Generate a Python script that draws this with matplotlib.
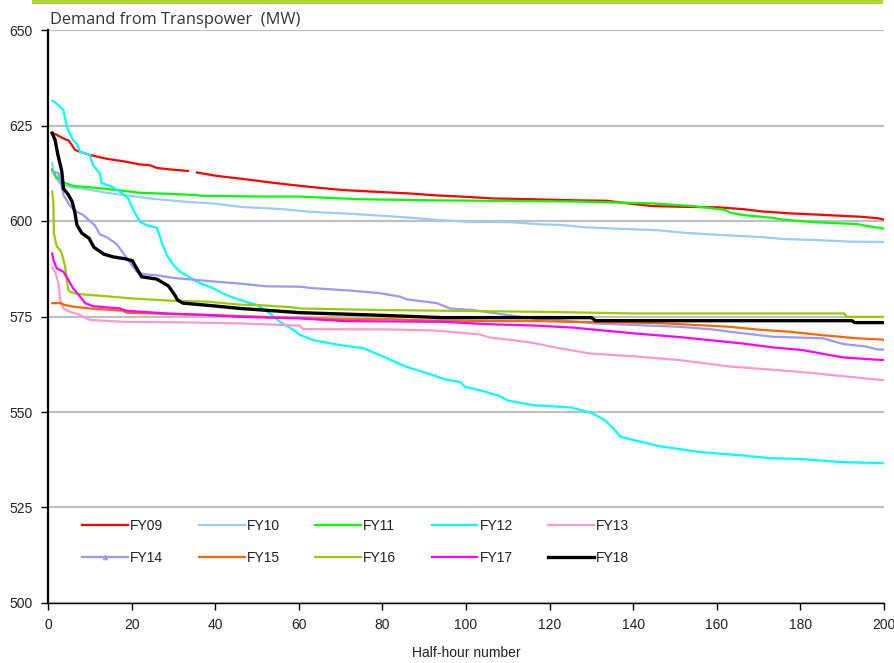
import numpy as np
import matplotlib
matplotlib.use("Agg")
import matplotlib.pyplot as plt
from matplotlib.patches import Rectangle
from matplotlib.lines import Line2D

nan = np.nan

# Sorted half-hour demand (MW) for each financial year, read at the listed half-hour positions
fy09_x = [1, 2, 3.7, 5, 6.5, 7.7, 10, 14, 18.8, 22, 24.4, 26, 29.2, 33.5, 34.5, 35.6, 40.4, 46.7, 53.9,
          58.7, 64.7, 70.6, 77.5, 86.6, 93, 100.5, 106.5, 111.3, 119.3, 126.6, 133.7, 140.4, 144.7, 152.4,
          160, 166.3, 170.8, 177.5, 185.4, 194.7, 198.6, 200]
fy09_y = [623, 622.6, 621.6, 621, 618.6, 618.1, 617.3, 616.3, 615.5, 614.8, 614.6, 613.9, 613.5, 613.1, nan,
          612.7, 611.8, 611.0, 610.0, 609.4, 608.7, 608.1, 607.7, 607.2, 606.7, 606.3, 605.9, 605.8, 605.6,
          605.4, 605.3, 604.4, 603.9, 603.7, 603.6, 603.1, 602.5, 602.0, 601.6, 601.1, 600.7, 600.4]

fy10_x = [1, 1.3, 2, 2.9, 4, 6, 10, 14, 18, 24.4, 33.2, 39.5, 46, 56.2, 62.7, 70.6, 76.6, 83.7, 88.5, 92.6,
          100.5, 110.5, 118.4, 122.5, 127.8, 133.7, 145.7, 152.4, 161.5, 170.8, 175.6, 184, 191.9, 200]
fy10_y = [615.2, 612.5, 611.0, 609.9, 609.2, 608.8, 608.2, 607.4, 606.8, 605.9, 605.0, 604.6, 603.7, 603.1,
          602.4, 602.0, 601.6, 601.1, 600.7, 600.3, 599.8, 599.7, 599.1, 599.0, 598.4, 598.1, 597.6, 596.9,
          596.3, 595.8, 595.3, 595.0, 594.6, 594.5]

fy11_x = [1, 2, 2.9, 4.1, 6, 10, 14, 22, 35.6, 36.4, 51.5, 60, 74.6, 92.6, 126.6, 144.7, 154.3, 157.6, 162,
          163.2, 166, 173.5, 175.6, 183, 193.5, 195.9, 199.5, 200]
fy11_y = [613.5, 611.5, 610.7, 609.9, 609.2, 608.8, 608.4, 607.4, 606.8, 606.6, 606.4, 606.4, 605.7, 605.4,
          605.1, 604.6, 603.9, 603.5, 602.9, 602.2, 601.6, 600.8, 600.4, 599.7, 599.2, 598.7, 598.1, 598.0]

fy12_x = [1, 2, 3, 3.7, 4.5, 5.2, 6, 6.9, 7.7, 10, 10.8, 12.4, 12.8, 15.2, 17.2, 19.2, 20.4, 22, 23.6, 26,
          26.8, 27.2, 28.4, 30, 31.6, 34, 36.4, 39.5, 42.7, 46, 50, 53.1, 55.5, 58.7, 60.3, 63.5, 70, 75.4,
          79.4, 85.8, 90.6, 95.4, 98.6, 99.8, 103.3, 108, 110, 116, 125, 130, 133, 135, 137, 140, 146, 156,
          165.5, 172.7, 180, 189.5, 200]
fy12_y = [631.5, 630.8, 629.8, 629.0, 624.7, 623.0, 621.2, 620.2, 618.1, 617.3, 614.6, 612.5, 610.0, 609.0,
          607.7, 605.9, 602.9, 599.8, 598.9, 598.3, 595.9, 594.4, 591.1, 588.5, 586.7, 585.2, 583.7, 582.4,
          580.6, 579.3, 578.0, 575.8, 573.6, 571.5, 570.2, 568.8, 567.5, 566.7, 564.9, 561.8, 560.2, 558.4,
          557.9, 556.6, 555.7, 554.2, 553.0, 551.8, 551.2, 549.8, 548.0, 546.0, 543.5, 542.7, 541.1, 539.5,
          538.7, 537.9, 537.7, 536.9, 536.6]

fy13_x = [1, 1.7, 2.5, 2.9, 3.7, 5.3, 7.7, 10, 18, 30, 46, 60.3, 61, 81.8, 93, 103.3, 105.7, 111.3, 116,
          121.8, 129.7, 140, 151, 163.2, 180, 200]
fy13_y = [587.8, 586.7, 583.7, 579.3, 577.1, 576.2, 575.4, 574.1, 573.6, 573.5, 573.2, 572.6, 571.7, 571.6,
          571.3, 570.3, 569.5, 568.8, 568.1, 566.8, 565.3, 564.6, 563.6, 561.9, 560.5, 558.3]

fy14_x = [1, 2.5, 3.7, 5.3, 6.9, 8.4, 10, 11.2, 12.4, 14, 16.4, 18.4, 20, 21.2, 22, 24.4, 26, 30, 34, 40.4,
          46, 52.3, 60.3, 63.5, 72.2, 79.4, 84.2, 85.8, 93, 96.2, 101.7, 107.4, 109.8, 116, 124.2, 130.4,
          140, 151.2, 159.1, 163.2, 173.4, 185.4, 190.2, 195.9, 198.3, 200]
fy14_y = [613.0, 612.5, 606.8, 603.9, 602.4, 601.6, 600.0, 598.9, 596.5, 595.8, 594.0, 591.0, 588.5, 586.8,
          586.3, 585.9, 585.8, 585.1, 584.7, 584.1, 583.6, 582.9, 582.8, 582.4, 581.8, 581.1, 580.2, 579.5,
          578.5, 577.1, 576.7, 575.8, 575.4, 574.5, 573.9, 573.2, 572.8, 572.3, 571.6, 571.0, 569.7, 569.3,
          567.8, 567.1, 566.4, 566.3]

fy15_x = [1, 3, 4.1, 6, 10, 18, 18.8, 25.2, 30, 38, 46, 60, 70.6, 82, 90, 105, 117, 125, 135, 145, 151.2,
          163.2, 169.6, 177.5, 185.4, 193.5, 199, 200]
fy15_y = [578.5, 578.5, 578.0, 577.6, 577.1, 576.5, 576.0, 575.8, 575.6, 575.4, 575.1, 574.6, 574.3, 574.3,
          574.0, 573.8, 573.8, 573.6, 573.5, 573.3, 573.0, 572.3, 571.6, 571.0, 570.1, 569.3, 569.0, 568.9]

fy16_x = [1, 1.3, 1.4, 2.1, 2.9, 3.3, 4.1, 4.5, 4.9, 5.3, 6.9, 14, 20.4, 30, 38, 46, 50, 58.6, 60.3, 79.4,
          119.4, 140, 190.5, 191, 200]
fy16_y = [607.7, 604.6, 596.8, 593.3, 592.4, 591.5, 588.0, 584.5, 581.9, 581.5, 580.9, 580.3, 579.7, 579.1,
          578.9, 578.1, 578.0, 577.4, 577.1, 576.7, 576.2, 575.8, 575.8, 574.9, 574.9]

fy17_x = [1, 1.3, 2.1, 3.7, 4.9, 6, 7.7, 8.9, 10.8, 17.2, 18.8, 28.4, 38, 46, 60.3, 70.6, 94.5, 105, 117,
          125.6, 131.3, 140, 151.2, 158.4, 165.6, 173.5, 180.6, 187, 190.2, 196.7, 200]
fy17_y = [591.5, 589.8, 587.6, 586.7, 584.5, 582.4, 580.2, 578.5, 577.7, 577.1, 576.5, 575.8, 575.4, 574.9,
          574.5, 573.8, 573.6, 573.0, 572.6, 572.1, 571.5, 570.6, 569.6, 568.8, 568.0, 566.9, 566.2, 564.9,
          564.3, 563.8, 563.6]

fy18_x = [1, 1.7, 2.3, 3.3, 3.7, 4.9, 5.8, 6.5, 6.9, 8.1, 9.8, 11, 13.4, 15.6, 18.5, 20.2, 21.2, 22.4, 26,
          28.8, 30.4, 31, 32.3, 39.5, 46, 53.9, 60.3, 77.5, 94.5, 130, 131, 151.2, 192.3, 193, 200]
fy18_y = [623.0, 621.2, 617.7, 613.0, 608.5, 606.8, 605.0, 601.8, 599.0, 596.8, 595.5, 593.1, 591.3, 590.6,
          590.1, 589.6, 587.6, 585.4, 584.8, 583.0, 580.5, 579.3, 578.5, 577.8, 577.1, 576.5, 576.0, 575.4,
          574.7, 574.7, 573.9, 573.9, 573.9, 573.4, 573.4]

labels = ["FY09", "FY10", "FY11", "FY12", "FY13", "FY14", "FY15", "FY16", "FY17", "FY18"]
xs = [fy09_x, fy10_x, fy11_x, fy12_x, fy13_x, fy14_x, fy15_x, fy16_x, fy17_x, fy18_x]
ys = [fy09_y, fy10_y, fy11_y, fy12_y, fy13_y, fy14_y, fy15_y, fy16_y, fy17_y, fy18_y]
colors = ["#ff0000", "#99ccff", "#00ff00", "#00ffff", "#ff99cc",
          "#9999ff", "#ff6600", "#99cc00", "#ff00ff", "#000000"]
widths = [1.6, 1.6, 1.6, 1.6, 1.6, 1.6, 1.6, 1.6, 1.6, 2.4]

y_ticks = [500, 525, 550, 575, 600, 625, 650]
x_ticks = [0, 20, 40, 60, 80, 100, 120, 140, 160, 180, 200]

plt.rcParams["font.family"] = ["Liberation Sans", "DejaVu Sans"]

fig = plt.figure(figsize=(8.95, 6.63), dpi=100)
ax = fig.add_axes([48 / 895, 60 / 663, 836 / 895, 573 / 663])

handles = {}
for lab, x, y, c, w in zip(labels, xs, ys, colors, widths):
    ax.plot(x, y, color=c, lw=w, solid_joinstyle="miter")
    # legend key; FY14 carries its small triangle marker
    mk = dict(marker="^", markersize=3.5, markeredgewidth=0.5) if lab == "FY14" else {}
    handles[lab] = Line2D([], [], color=c, lw=w, **mk)

ax.set_xlim(0, 200)
ax.set_ylim(500, 650)
ax.set_xticks(x_ticks)
ax.set_yticks(y_ticks)
ax.yaxis.grid(True, color="#c0c0c0", lw=1.6)
ax.set_axisbelow(True)
for s in ("top", "right"):
    ax.spines[s].set_visible(False)
ax.spines["left"].set_linewidth(1.6)
ax.spines["bottom"].set_linewidth(1.0)
ax.tick_params(axis="both", direction="out", length=5, width=1.0, labelsize=10,
               colors="#000000", labelcolor="#222222")
ax.tick_params(axis="y", pad=6)
ax.tick_params(axis="x", pad=6)
ax.set_xlabel("Half-hour number", fontsize=10, color="#222222", labelpad=10)

# legend laid out row by row (matplotlib fills columns first)
order = ["FY09", "FY14", "FY10", "FY15", "FY11", "FY16", "FY12", "FY17", "FY13", "FY18"]
leg = ax.legend([handles[k] for k in order], order, ncol=5, loc="upper left",
                bbox_to_anchor=(0.041, 0.147), frameon=False, fontsize=10,
                handlelength=3.3, handletextpad=0.15, columnspacing=2.55,
                labelspacing=1.32, borderpad=0, borderaxespad=0, numpoints=1)
for t in leg.get_texts():
    t.set_color("#222222")

# title text and accent bar across the top
fig.text(50 / 895, 1 - 24 / 663, "Demand from Transpower  (MW)", fontsize=11.8,
         family=["Open Sans", "DejaVu Sans"], color="#333333", va="baseline", ha="left")
fig.add_artist(Rectangle((32 / 895, 1 - 3.5 / 663), 851 / 895, 3.5 / 663,
                         transform=fig.transFigure, color="#b2d235", lw=0))

fig.savefig("out.png", dpi=100)
